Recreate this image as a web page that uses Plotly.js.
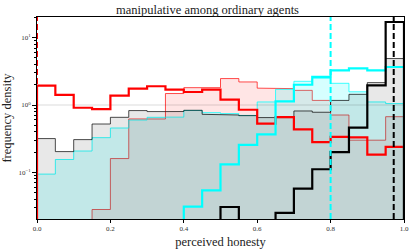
<!DOCTYPE html>
<html>
<head>
<meta charset="utf-8">
<script src="https://cdn.plot.ly/plotly-3.0.1.min.js"></script>
<style>html,body{margin:0;padding:0;background:#fff;}#chart{width:415px;height:249px;}</style>
</head>
<body>
<div id="chart"></div>
<script>
// bin edges of the histograms (perceived honesty)
const binEdges = [0,0.05,0.1,0.15,0.2,0.25,0.3,0.35,0.4,0.45,0.5,0.55,0.6,0.65,0.7,0.75,0.8,0.85,0.9,0.95,1.0];

// frequency densities per bin
const redThin    = [0,0,0,0.028,0.16,0.62,0.62,1.48,1.81,1.81,2.47,2.2,1.78,1.75,1.65,1.17,0.71,0.30,0.30,0.67];
const redThick   = [1.94,1.41,0.91,0.87,1.38,1.75,1.90,1.69,1.56,1.69,1.20,0.85,0.53,0.66,0.435,0.28,0.335,0.33,0.183,0.238];
const cyanThin   = [0.094,0.155,0.207,0.327,0.455,0.598,0.656,0.66,0.83,0.77,0.745,0.70,1.11,1.71,2.25,2.5,2.1,1.57,1.11,1.05];
const cyanThick  = [0,0,0,0,0,0,0,0,0.031,0.054,0.131,0.255,0.367,1.13,2.0,2.62,3.28,3.51,3.28,3.67];
const blackThin  = [0.317,0.203,0.306,0.522,0.656,0.826,0.798,0.80,0.834,0.727,0.71,0.695,0.65,0.65,0.815,0.78,1.17,1.44,2.15,4.9];
const blackThick = [0,0,0,0,0,0,0,0,0,0,0.0305,0,0,0.025,0.057,0.111,0.20,0.46,1.96,17.1];

// true honesty markers (vertical dashed lines)
const trueValues = [0, 0.8, 0.972];
const trueColors = ['#ff0000', '#00ffff', '#000000'];

// ticks
const yTickVals = [0.1, 1, 10];
const yTickText = ['10<sup>\u22121</sup>', '10<sup>0</sup>', '10<sup>1</sup>'];
const xTickVals = [0, 0.2, 0.4, 0.6, 0.8, 1.0];
const xTickText = ['0.0', '0.2', '0.4', '0.6', '0.8', '1.0'];

const FLOOR = 1e-4; // stands in for zero on the log axis (below the visible range)

function stepPath(vals) {
  const x = [binEdges[0]], y = [FLOOR];
  vals.forEach((v, i) => {
    const vv = v > 0 ? v : FLOOR;
    x.push(binEdges[i], binEdges[i + 1]);
    y.push(vv, vv);
  });
  x.push(binEdges[binEdges.length - 1]);
  y.push(FLOOR);
  return {x, y};
}

function filledTrace(vals, lineColor, fillColor) {
  const p = stepPath(vals);
  return {x: p.x, y: p.y, type: 'scatter', mode: 'lines', fill: 'toself',
          fillcolor: fillColor, line: {color: lineColor, width: 1}, hoverinfo: 'skip', showlegend: false};
}
function thickTrace(vals, color) {
  const p = stepPath(vals);
  return {x: p.x, y: p.y, type: 'scatter', mode: 'lines',
          line: {color: color, width: 2.2}, hoverinfo: 'skip', showlegend: false};
}

const traces = [
  filledTrace(redThin, 'rgba(255,0,0,0.7)', 'rgba(255,0,0,0.1)'),
  filledTrace(cyanThin, 'rgba(0,255,255,0.75)', 'rgba(0,255,255,0.16)'),
  filledTrace(blackThin, 'rgba(0,0,0,0.7)', 'rgba(0,0,0,0.09)'),
  {x: [binEdges[0], binEdges[binEdges.length - 1]], y: [1, 1], type: 'scatter', mode: 'lines',
   line: {color: 'rgba(0,0,0,0.14)', width: 1.2}, hoverinfo: 'skip', showlegend: false},
  thickTrace(redThick, '#ff0000'),
  thickTrace(cyanThick, '#00ffff'),
  thickTrace(blackThick, '#000000')
];

const shapes = trueValues.map((v, i) => ({
  type: 'line', xref: 'x', yref: 'paper', x0: v, x1: v, y0: 0, y1: 1,
  line: {color: trueColors[i], width: 2, dash: '6px,3px'}, layer: 'above'
}));

const font = "'Liberation Serif', 'DejaVu Serif', serif";
const layout = {
  width: 415, height: 249,
  margin: {l: 37, r: 11, t: 17, b: 30},
  paper_bgcolor: '#fff', plot_bgcolor: '#fff',
  font: {family: font, color: '#222', size: 7},
  title: {text: 'manipulative among ordinary agents', font: {family: font, size: 12.5, color: '#222'},
          x: 0.5, xanchor: 'center', y: 0.96, yanchor: 'middle'},
  xaxis: {range: [0, 1], tickvals: xTickVals, ticktext: xTickText, ticks: 'outside', ticklen: 3,
          tickcolor: '#000', showline: true, mirror: true, linecolor: '#000', linewidth: 1,
          showgrid: false, zeroline: false, tickfont: {family: font, size: 7, color: '#333'},
          title: {text: 'perceived honesty', font: {family: font, size: 12.5, color: '#222'}, standoff: 4}},
  yaxis: {type: 'log', range: [-1.694, 1.3076], tickvals: yTickVals, ticktext: yTickText,
          ticks: 'outside', ticklen: 4, tickcolor: '#000',
          minor: {ticks: 'outside', ticklen: 2, tickcolor: '#000', dtick: 'D1', showgrid: false},
          showline: true, mirror: true, linecolor: '#000', linewidth: 1, showgrid: false, zeroline: false,
          tickfont: {family: font, size: 7, color: '#333'},
          title: {text: 'frequency density', font: {family: font, size: 12.5, color: '#222'}, standoff: 4}},
  shapes: shapes
};

Plotly.newPlot('chart', traces, layout, {staticPlot: true, displayModeBar: false});
</script>
</body>
</html>
